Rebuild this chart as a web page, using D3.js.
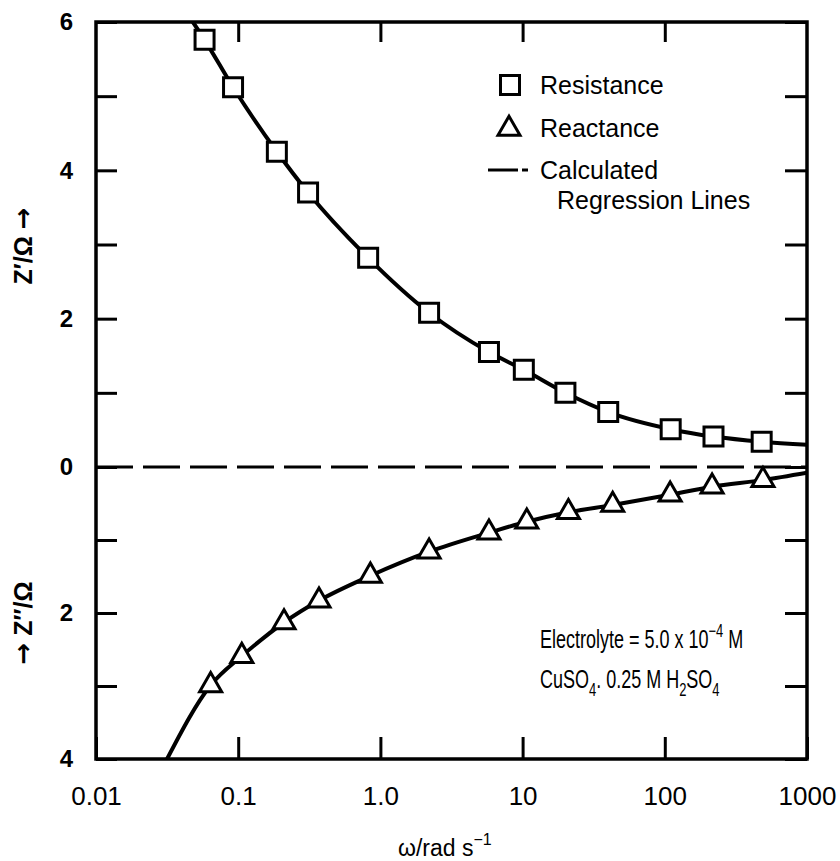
<!DOCTYPE html>
<html>
<head>
<meta charset="utf-8">
<script src="https://cdn.jsdelivr.net/npm/d3@7"></script>
<style>
  body { margin: 0; background: #fff; }
  text { font-family: "Liberation Sans", Arial, sans-serif; fill: #000; }
</style>
</head>
<body>
<div id="chart"></div>
<script>
// measured points, omega in rad/s
var omegaR = [0.058, 0.092, 0.187, 0.31, 0.82, 2.2, 5.8, 10.2, 20, 40, 110, 220, 480];
var resistance = [5.76, 5.12, 4.25, 3.70, 2.82, 2.08, 1.55, 1.31, 1.00, 0.74, 0.51, 0.41, 0.34];
var omegaX = [0.064, 0.106, 0.21, 0.37, 0.85, 2.2, 5.8, 10.7, 21, 43, 109, 215, 490];
var reactance = [2.99, 2.59, 2.13, 1.83, 1.49, 1.16, 0.90, 0.75, 0.62, 0.52, 0.38, 0.27, 0.18]; // Z'' drawn downward

// calculated regression lines (incl. where they leave the frame)
var fitOmegaR = [0.048, 0.058, 0.092, 0.187, 0.31, 0.82, 2.2, 5.8, 10.2, 20, 40, 110, 220, 480, 1000];
var fitR = [6.0, 5.76, 5.12, 4.25, 3.70, 2.82, 2.08, 1.55, 1.31, 1.00, 0.74, 0.51, 0.41, 0.34, 0.30];
var fitOmegaX = [0.0316, 0.064, 0.106, 0.21, 0.37, 0.85, 2.2, 5.8, 10.7, 21, 43, 109, 215, 490, 1000];
var fitX = [4.0, 2.99, 2.59, 2.13, 1.83, 1.49, 1.16, 0.90, 0.75, 0.62, 0.52, 0.38, 0.27, 0.18, 0.08];

var xTicks = [0.01, 0.1, 1, 10, 100, 1000];
var xTickLabels = ["0.01", "0.1", "1.0", "10", "100", "1000"];
var yTicks = [6, 5, 4, 3, 2, 1, 0, -1, -2, -3, -4];

var width = 840, height = 861;
var frame = { left: 96, right: 807, top: 22, bottom: 759 };
var font = "'Liberation Sans', Arial, sans-serif";

var svg = d3.select("#chart").append("svg")
    .attr("width", width)
    .attr("height", height);

var x = d3.scaleLog().domain([0.01, 1000]).range([frame.left, frame.right]);
var y = d3.scaleLinear().domain([6, 0, -4]).range([frame.top, 467, frame.bottom]);

svg.append("clipPath").attr("id", "plot")
  .append("rect")
    .attr("x", frame.left).attr("y", frame.top)
    .attr("width", frame.right - frame.left)
    .attr("height", frame.bottom - frame.top);

// axes, ticks point inward
function styleAxis(g) {
    g.select(".domain").remove();
    g.selectAll(".tick line").attr("stroke", "#000").attr("stroke-width", 3);
}

svg.append("g")
    .attr("transform", "translate(" + frame.left + ",0)")
    .call(d3.axisLeft(y).tickValues(yTicks).tickSizeInner(-21).tickSizeOuter(0).tickPadding(23)
        .tickFormat(function(d) { return d % 2 === 0 ? Math.abs(d) : ""; }))
    .call(styleAxis)
    .selectAll("text")
    .attr("font-size", 24).attr("font-weight", "bold")
    .style("font-family", font);

svg.append("g")
    .attr("transform", "translate(" + frame.right + ",0)")
    .call(d3.axisRight(y).tickValues(yTicks).tickSizeInner(-22).tickSizeOuter(0).tickFormat(""))
    .call(styleAxis);

svg.append("g")
    .attr("transform", "translate(0," + frame.top + ")")
    .call(d3.axisTop(x).tickValues([0.1, 1, 10, 100]).tickSizeInner(-20).tickSizeOuter(0).tickFormat(""))
    .call(styleAxis);

svg.append("g")
    .attr("transform", "translate(0," + frame.bottom + ")")
    .call(d3.axisBottom(x).tickValues(xTicks).tickSizeInner(-22).tickSizeOuter(0).tickPadding(28)
        .tickFormat(function(d, i) { return xTickLabels[i]; }))
    .call(styleAxis)
    .selectAll("text")
    .attr("font-size", 26)
    .style("font-family", font);

// frame
svg.append("rect")
    .attr("x", frame.left).attr("y", frame.top)
    .attr("width", frame.right - frame.left)
    .attr("height", frame.bottom - frame.top)
    .attr("fill", "none").attr("stroke", "#000").attr("stroke-width", 3.5);

// zero line
svg.append("line")
    .attr("x1", frame.left).attr("x2", frame.right)
    .attr("y1", y(0)).attr("y2", y(0))
    .attr("stroke", "#000").attr("stroke-width", 3)
    .attr("stroke-dasharray", "37,10");

var line = d3.line()
    .x(function(d) { return x(d[0]); })
    .y(function(d) { return y(d[1]); })
    .curve(d3.curveMonotoneX);

var plot = svg.append("g").attr("clip-path", "url(#plot)");

plot.append("path")
    .attr("d", line(fitOmegaR.map(function(w, i) { return [w, fitR[i]]; })))
    .attr("fill", "none").attr("stroke", "#000").attr("stroke-width", 4);

plot.append("path")
    .attr("d", line(fitOmegaX.map(function(w, i) { return [w, -fitX[i]]; })))
    .attr("fill", "none").attr("stroke", "#000").attr("stroke-width", 4);

var square = d3.symbol().type(d3.symbolSquare).size(361);
var triangle = d3.symbol().type(d3.symbolTriangle).size(210);

svg.selectAll(".res")
    .data(omegaR.map(function(w, i) { return [w, resistance[i]]; }))
    .enter().append("path")
    .attr("class", "res")
    .attr("d", square)
    .attr("transform", function(d) { return "translate(" + x(d[0]) + "," + y(d[1]) + ")"; })
    .attr("fill", "#fff").attr("stroke", "#000").attr("stroke-width", 3);

svg.selectAll(".reac")
    .data(omegaX.map(function(w, i) { return [w, -reactance[i]]; }))
    .enter().append("path")
    .attr("class", "reac")
    .attr("d", triangle)
    .attr("transform", function(d) { return "translate(" + x(d[0]) + "," + y(d[1]) + ")"; })
    .attr("fill", "#fff").attr("stroke", "#000").attr("stroke-width", 3);

// legend
var legend = svg.append("g");
legend.append("path").attr("d", square).attr("transform", "translate(510,85)")
    .attr("fill", "#fff").attr("stroke", "#000").attr("stroke-width", 3);
legend.append("text").attr("x", 540).attr("y", 94).attr("font-size", 25).text("Resistance");
legend.append("path").attr("d", triangle).attr("transform", "translate(509,129)")
    .attr("fill", "#fff").attr("stroke", "#000").attr("stroke-width", 3);
legend.append("text").attr("x", 540).attr("y", 137).attr("font-size", 25).text("Reactance");
legend.append("line").attr("x1", 488).attr("x2", 518).attr("y1", 170).attr("y2", 170)
    .attr("stroke", "#000").attr("stroke-width", 3);
legend.append("line").attr("x1", 522).attr("x2", 528).attr("y1", 170).attr("y2", 170)
    .attr("stroke", "#000").attr("stroke-width", 3);
legend.append("text").attr("x", 540).attr("y", 179).attr("font-size", 25).text("Calculated");
legend.append("text").attr("x", 557).attr("y", 209).attr("font-size", 25).text("Regression Lines");

// electrolyte note, set narrow like the original lettering
var note1 = svg.append("text")
    .attr("transform", "translate(540,648) scale(0.72,1)").attr("font-size", 25);
note1.append("tspan").text("Electrolyte = 5.0 x 10");
note1.append("tspan").attr("dy", -11).attr("font-size", 18).text("\u22124");
note1.append("tspan").attr("dy", 11).text("  M");

var note2 = svg.append("text")
    .attr("transform", "translate(540,688) scale(0.72,1)").attr("font-size", 25);
note2.append("tspan").text("CuSO");
note2.append("tspan").attr("dy", 8).attr("font-size", 18).text("4");
note2.append("tspan").attr("dy", -8).text(". 0.25 M H");
note2.append("tspan").attr("dy", 8).attr("font-size", 18).text("2");
note2.append("tspan").attr("dy", -8).text("SO");
note2.append("tspan").attr("dy", 8).attr("font-size", 18).text("4");

// axis titles
var xt = svg.append("text").attr("x", 398).attr("y", 856).attr("font-size", 23);
xt.append("tspan").text("\u03c9/rad  s");
xt.append("tspan").attr("dy", -11).attr("font-size", 16).text("\u22121");

var yt1 = svg.append("text")
    .attr("transform", "translate(32,246) rotate(-90)")
    .attr("text-anchor", "middle").attr("font-size", 25).attr("font-weight", "bold");
yt1.append("tspan").text("Z\u2032/\u03a9 ");
yt1.append("tspan").style("font-family", "'DejaVu Sans'").attr("font-size", 26).text("\u2192");

var yt2 = svg.append("text")
    .attr("transform", "translate(32,623) rotate(-90)")
    .attr("text-anchor", "middle").attr("font-size", 25).attr("font-weight", "bold");
yt2.append("tspan").style("font-family", "'DejaVu Sans'").attr("font-size", 26).text("\u2192");
yt2.append("tspan").text(" Z\u2033/\u03a9");
</script>
</body>
</html>
